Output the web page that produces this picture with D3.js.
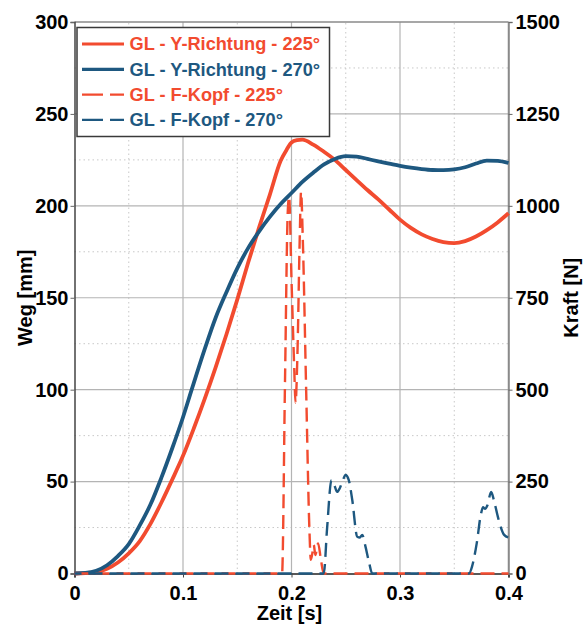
<!DOCTYPE html>
<html>
<head>
<meta charset="utf-8">
<script src="https://cdn.jsdelivr.net/npm/d3@7"></script>
<style>
  html, body { margin: 0; padding: 0; background: #fff; }
  svg { display: block; font-family: "Liberation Sans", Arial, sans-serif; }
</style>
</head>
<body>
<svg id="chart" width="588" height="628"></svg>
<script>
// Weg (displacement, mm) – Y-Richtung, 225°
const time225 = [0, 0.01, 0.02, 0.03, 0.04, 0.05, 0.06, 0.07, 0.08, 0.09, 0.1, 0.11, 0.12, 0.13, 0.14, 0.15, 0.16, 0.17, 0.18, 0.19, 0.196, 0.2, 0.205, 0.21, 0.22, 0.23, 0.24, 0.25, 0.26, 0.27, 0.28, 0.29, 0.3, 0.31, 0.32, 0.33, 0.34, 0.35, 0.36, 0.37, 0.38, 0.39, 0.4];
const weg225  = [0, 0.2, 0.8, 2.6, 6, 11, 17.5, 27, 38.5, 51, 64, 79, 95, 112, 130, 149, 169, 188, 206, 224.5, 231, 234.5, 235.7, 236, 233.3, 229.4, 225, 219.5, 214, 208.6, 203.5, 198, 192.5, 188, 184.5, 182, 180.3, 179.7, 180.8, 183.3, 186.8, 191, 196];

// Weg (displacement, mm) – Y-Richtung, 270°
const time270 = [0, 0.01, 0.02, 0.03, 0.04, 0.05, 0.06, 0.07, 0.08, 0.09, 0.1, 0.108, 0.12, 0.13, 0.14, 0.15, 0.16, 0.17, 0.18, 0.19, 0.2, 0.21, 0.22, 0.23, 0.24, 0.25, 0.26, 0.27, 0.28, 0.29, 0.3, 0.31, 0.32, 0.33, 0.34, 0.35, 0.36, 0.37, 0.38, 0.39, 0.4];
const weg270  = [0, 0.3, 1.5, 4.5, 9.5, 16, 26, 37.5, 52, 68, 85, 100, 122, 139, 153, 166, 177, 186, 194, 201, 207, 213, 218, 222.5, 225.5, 227, 226.8, 225.5, 224.2, 223, 221.8, 220.8, 220, 219.5, 219.4, 219.8, 221, 223, 224.6, 224.5, 223.3];

// Kraft (force, N) – F-Kopf, 225°
const timeF225 = [0, 0.1913, 0.194, 0.1965, 0.1978, 0.2, 0.2025, 0.2037, 0.2055, 0.2075, 0.2088, 0.2105, 0.2135, 0.2165, 0.2178, 0.2195, 0.2205, 0.222, 0.2245, 0.227, 0.2297, 0.4];
const kraft225 = [0, 0, 520, 980, 1025, 800, 560, 464, 600, 900, 1038, 900, 500, 120, 37, 60, 78, 50, 82, 40, 0, 0];

// Kraft (force, N) – F-Kopf, 270°
const timeF270 = [0, 0.2297, 0.2329, 0.2368, 0.2395, 0.2421, 0.2445, 0.2475, 0.2498, 0.2528, 0.256, 0.2606, 0.263, 0.2652, 0.2682, 0.2715, 0.2744, 0.3636, 0.3665, 0.3707, 0.3745, 0.3765, 0.3785, 0.3805, 0.384, 0.3865, 0.3898, 0.393, 0.396, 0.4];
const kraft270 = [0, 0, 127, 254, 240, 222, 232, 255, 268, 254, 200, 100, 98, 105, 73, 30, 0, 0, 20, 82, 160, 180, 176, 185, 222, 200, 159, 125, 105, 98];

const xTicks = [0, 0.1, 0.2, 0.3, 0.4];
const yTicks = [0, 50, 100, 150, 200, 250, 300];
const y2Ticks = [0, 250, 500, 750, 1000, 1250, 1500];

const seriesNames = ["GL - Y-Richtung - 225°", "GL - Y-Richtung - 270°", "GL - F-Kopf - 225°", "GL - F-Kopf - 270°"];

const RED = "#f24b2f";
const BLUE = "#1e5880";

const svg = d3.select("#chart");
const m = { left: 74.5, right: 79.5, top: 22, bottom: 54.5 };
const W = 588, H = 628;
const x = d3.scaleLinear().domain([0, 0.4]).range([m.left, W - m.right]);
const y = d3.scaleLinear().domain([0, 300]).range([H - m.bottom, m.top]);
const y2 = d3.scaleLinear().domain([0, 1500]).range([H - m.bottom, m.top]);

// grid: dotted minor lines, solid major lines
const grid = svg.append("g");
const minorX = d3.range(0.05, 0.4, 0.1);
const minorY = d3.range(25, 300, 50);
grid.selectAll(".mx").data(minorX).join("line")
  .attr("x1", d => x(d)).attr("x2", d => x(d))
  .attr("y1", y(0)).attr("y2", y(300))
  .attr("stroke", "#c8c8c8").attr("stroke-width", 1).attr("stroke-dasharray", "1.5,3");
grid.selectAll(".my").data(minorY).join("line")
  .attr("y1", d => y(d)).attr("y2", d => y(d))
  .attr("x1", x(0)).attr("x2", x(0.4))
  .attr("stroke", "#c8c8c8").attr("stroke-width", 1).attr("stroke-dasharray", "1.5,3");
grid.selectAll(".Mx").data(xTicks.slice(1, -1)).join("line")
  .attr("x1", d => x(d)).attr("x2", d => x(d))
  .attr("y1", y(0)).attr("y2", y(300))
  .attr("stroke", "#b4b4b4").attr("stroke-width", 1.2);
grid.selectAll(".My").data(yTicks.slice(1, -1)).join("line")
  .attr("y1", d => y(d)).attr("y2", d => y(d))
  .attr("x1", x(0)).attr("x2", x(0.4))
  .attr("stroke", "#b4b4b4").attr("stroke-width", 1.2);

// frame
svg.append("line").attr("x1", x(0)).attr("x2", x(0.4)).attr("y1", y(300)).attr("y2", y(300))
  .attr("stroke", "#8a8a8a").attr("stroke-width", 1.5);
svg.append("line").attr("x1", x(0.4)).attr("x2", x(0.4)).attr("y1", y(0)).attr("y2", y(300))
  .attr("stroke", "#8a8a8a").attr("stroke-width", 1.5);

// axes
const tickFont = 20;
const ax = svg.append("g").attr("transform", `translate(0,${y(0)})`)
  .call(d3.axisBottom(x).tickValues(xTicks).tickFormat(d => d === 0 ? "0" : d3.format(".1f")(d)).tickSize(4).tickPadding(8));
const ay = svg.append("g").attr("transform", `translate(${x(0)},0)`)
  .call(d3.axisLeft(y).tickValues(yTicks).tickFormat(d3.format("d")).tickSize(4).tickPadding(2));
const ay2 = svg.append("g").attr("transform", `translate(${x(0.4)},0)`)
  .call(d3.axisRight(y2).tickValues(y2Ticks).tickFormat(d3.format("d")).tickSize(4).tickPadding(3));
[ax, ay, ay2].forEach(g => {
  g.selectAll("text").attr("font-size", tickFont).attr("font-weight", "bold").attr("fill", "#000")
    .attr("font-family", "Liberation Sans, Arial, sans-serif");
});
ax.select(".domain").attr("stroke", "#222").attr("stroke-width", 1.6);
ax.selectAll(".tick line").attr("stroke", "#444");
ay.select(".domain").attr("stroke", "#444").attr("stroke-width", 1.5);
ay.selectAll(".tick line").attr("stroke", "#666");
ay2.select(".domain").attr("stroke", "#8a8a8a").attr("stroke-width", 1.5);
ay2.selectAll(".tick line").attr("stroke", "#666");

// axis titles
svg.append("text").attr("x", x(0.2) - 2).attr("y", 620).attr("text-anchor", "middle")
  .attr("font-size", 20).attr("font-weight", "bold").text("Zeit [s]");
svg.append("text").attr("transform", `translate(32,${(y(0) + y(300)) / 2}) rotate(-90)`)
  .attr("text-anchor", "middle").attr("font-size", 20).attr("font-weight", "bold").text("Weg [mm]");
svg.append("text").attr("transform", `translate(578,${(y(0) + y(300)) / 2}) rotate(-90)`)
  .attr("text-anchor", "middle").attr("font-size", 20).attr("font-weight", "bold").text("Kraft [N]");

// curves
const plot = svg.append("g");
const lineW = d3.line().x(d => x(d[0])).y(d => y(d[1])).curve(d3.curveMonotoneX);
const lineF = d3.line().x(d => x(d[0])).y(d => y2(d[1])).curve(d3.curveMonotoneX);
const zip = (a, b) => a.map((v, i) => [v, b[i]]);

plot.append("path").attr("d", lineW(zip(time225, weg225)))
  .attr("fill", "none").attr("stroke", RED).attr("stroke-width", 3.8).attr("stroke-linejoin", "round");
plot.append("path").attr("d", lineW(zip(time270, weg270)))
  .attr("fill", "none").attr("stroke", BLUE).attr("stroke-width", 3.8).attr("stroke-linejoin", "round");
plot.append("path").attr("d", lineF(zip(timeF225, kraft225)))
  .attr("fill", "none").attr("stroke", RED).attr("stroke-width", 2.4).attr("stroke-dasharray", "14,7");
plot.append("path").attr("d", lineF(zip(timeF270, kraft270)))
  .attr("fill", "none").attr("stroke", BLUE).attr("stroke-width", 2.4).attr("stroke-dasharray", "14,7")
  .attr("stroke-dashoffset", 7);

// legend
const lg = svg.append("g");
lg.append("rect").attr("x", 77).attr("y", 27.5).attr("width", 252.5).attr("height", 109)
  .attr("fill", "#fff").attr("stroke", "#3a3a3a").attr("stroke-width", 1.5);
const legendItems = [
  { name: seriesNames[0], color: RED, dash: null, w: 3.2 },
  { name: seriesNames[1], color: BLUE, dash: null, w: 3.2 },
  { name: seriesNames[2], color: RED, dash: "21,7,14", w: 2.4 },
  { name: seriesNames[3], color: BLUE, dash: "21,7,14", w: 2.4 }
];
legendItems.forEach((it, i) => {
  const cy = 44 + i * 25.3;
  lg.append("line").attr("x1", 82).attr("x2", 124).attr("y1", cy).attr("y2", cy)
    .attr("stroke", it.color).attr("stroke-width", it.w)
    .attr("stroke-dasharray", it.dash);
  lg.append("text").attr("x", 129.5).attr("y", cy + 6.4).attr("font-size", 18.2)
    .attr("font-weight", "bold").attr("fill", it.color).text(it.name);
});
</script>
</body>
</html>
